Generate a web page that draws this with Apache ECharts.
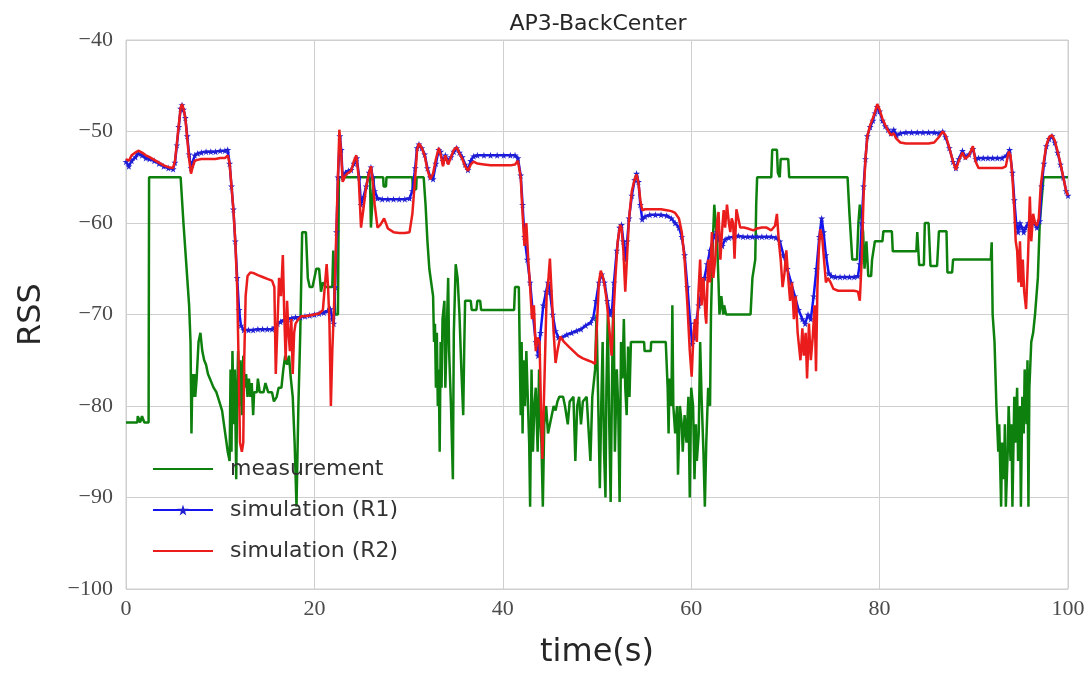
<!DOCTYPE html>
<html>
<head>
<meta charset="utf-8">
<script src="https://cdn.jsdelivr.net/npm/echarts@6/dist/echarts.min.js"></script>
<style>html,body{margin:0;padding:0;background:#fff}#c{width:1090px;height:674px}</style>
</head>
<body>
<div id="c"></div>
<script>
// ---- data (time in s, RSS in dBm) ----
const seriesNames = ["measurement", "simulation (R1)", "simulation (R2)"];
const xTicks = [0, 20, 40, 60, 80, 100];
const yTicks = [-100, -90, -80, -70, -60, -50, -40];

// measurement: [time, RSS]
const measurement = [[0,-81.8],[1.2,-81.8],[1.25,-81.1],[1.45,-81.1],[1.5,-81.8],[1.65,-81.8],[1.7,-81.1],[1.9,-81.1],[1.95,-81.8],[2.4,-81.8],[2.45,-55],[5.8,-55],[6.1,-60],[6.4,-64.5],[6.7,-69],[6.85,-73],[6.95,-83],[7.05,-76.5],[7.15,-79],[7.25,-76.5],[7.35,-79],[7.5,-77],[7.7,-73],[7.9,-72],[8.1,-74],[8.3,-75],[8.5,-75.5],[8.7,-76.5],[8.9,-77],[9.1,-77.5],[9.3,-78],[9.6,-78.5],[9.9,-79.5],[10.2,-80.5],[10.4,-82],[10.6,-83.5],[10.8,-85],[11.0,-86],[11.1,-76],[11.2,-85],[11.3,-74],[11.45,-82],[11.55,-76],[11.7,-88],[11.8,-79],[11.9,-74],[12.0,-80],[12.15,-75],[12.3,-81],[12.45,-74.5],[12.6,-78],[12.75,-76.5],[12.9,-79],[13.05,-77],[13.2,-79],[13.35,-77.5],[13.5,-81],[13.6,-78.5],[13.9,-78.5],[14.0,-77],[14.2,-78.5],[14.6,-78.5],[14.8,-77.5],[15.0,-77.5],[15.1,-78.5],[15.5,-78.5],[15.7,-79.5],[16.0,-79],[16.2,-78],[16.5,-78],[16.7,-76],[16.9,-74.5],[17.1,-75.5],[17.3,-74.5],[17.5,-77],[17.7,-79],[17.9,-84],[18.1,-91],[18.3,-80],[18.5,-72],[18.7,-61],[19.1,-61],[19.3,-66],[19.5,-67],[19.8,-67],[20.0,-66],[20.2,-65],[20.5,-65],[20.7,-67.5],[20.9,-66.5],[21.2,-67],[21.6,-67],[21.9,-67],[22.0,-63],[22.2,-70],[22.5,-70],[22.6,-55],
[25.9,-55],[26.0,-60.5],[26.2,-60.5],[26.3,-55],[27.3,-55],[27.35,-56],[27.6,-56],[27.65,-55],[30.4,-55],[30.45,-56.3],[30.8,-56.3],[30.85,-55],[31.6,-55],[31.8,-58],[32.0,-62],[32.2,-65],[32.4,-66.5],[32.6,-68],[32.7,-73],[32.8,-71],[32.9,-78],[33.0,-72],[33.1,-80],[33.2,-76],[33.3,-85],[33.4,-73],[33.5,-78],[33.6,-70.5],[33.8,-68.5],[33.9,-78],[34.1,-70],[34.2,-66],[34.3,-74],[34.5,-80],[34.7,-88],[34.8,-72],[35.0,-64.5],[35.2,-66],[35.4,-70],[35.6,-76],[35.8,-81],[35.9,-74],[36.0,-68.5],[36.6,-68.5],[36.7,-69.5],[37.2,-69.5],[37.3,-68.5],[37.6,-68.5],[37.7,-69.5],[41.2,-69.5],[41.3,-67],[41.7,-67],
[41.8,-74],[41.9,-81],[42.0,-73],[42.1,-83],[42.2,-75],[42.35,-80],[42.5,-74],[42.6,-77.5],[42.8,-84],[42.9,-91],[43.05,-76],[43.2,-85],[43.35,-80],[43.5,-78],[43.7,-85],[43.85,-76],[44.0,-82],[44.1,-84],[44.25,-91],[44.4,-82],[44.6,-80],[44.8,-83],[45.0,-83],[45.2,-81],[45.4,-80],[45.6,-80.5],[45.8,-79.5],[46.0,-79],[46.4,-79],[46.6,-80],[46.9,-82],[47.1,-79.5],[47.5,-79],[47.7,-86],[47.9,-80],[48.1,-79],[48.3,-82],[48.5,-79.5],[48.9,-79],[49.3,-86],[49.5,-79],[49.8,-76],[49.95,-70],[50.1,-78],[50.3,-89],[50.45,-80],[50.6,-73],[50.75,-85],[50.9,-90],[51.0,-78],[51.15,-70],[51.3,-82],[51.45,-90.5],[51.6,-77],[51.75,-67],[51.9,-85],[52.1,-76],[52.25,-80],[52.4,-90.5],[52.55,-73],[52.7,-77],[52.85,-70.5],[53.0,-78],[53.15,-81],[53.3,-73.5],[53.45,-79],[53.6,-73],
[55.0,-73],[55.05,-74],[55.7,-74],[55.75,-73],[57.3,-73],[57.5,-78],[57.6,-83],[57.7,-77],[57.9,-80],[58.0,-69],[58.1,-80],[58.3,-83],[58.5,-80],[58.6,-87.5],[58.8,-80],[59.0,-82],[59.1,-85],[59.3,-81],[59.5,-84],[59.7,-79],[59.85,-90],[60.0,-78],[60.2,-80],[60.35,-88],[60.5,-82],[60.6,-86],[60.8,-83],[60.95,-73],[61.1,-79],[61.3,-85],[61.45,-91],[61.6,-84],[61.8,-78],[62.0,-80],[62.1,-70],[62.3,-62],[62.45,-58],[62.65,-58],[62.75,-62],[62.9,-66.5],[63.0,-70],[63.2,-68],[63.4,-70],[63.5,-69],[63.7,-70],[66.3,-70],[66.5,-66],[66.8,-64],[66.9,-58],[67.0,-55],[68.5,-55],[68.6,-52],[69.1,-52],[69.2,-54.5],[69.4,-55],[69.5,-53],[70.3,-53],[70.4,-55],
[76.6,-55],[76.8,-59],[77.1,-64],[77.6,-64],[77.75,-60],[77.9,-58],[78.1,-58],[78.25,-61],[78.4,-65],[78.6,-62],[78.8,-65.8],[79.1,-65.8],[79.2,-64],[79.5,-62],[80.3,-62],[80.4,-60.9],[81.3,-60.9],[81.4,-63.1],[83.9,-63.1],[84.0,-61],[84.2,-64.6],[84.7,-64.6],[84.8,-60],[85.2,-60],[85.4,-64.7],[86.1,-64.7],[86.3,-60.9],[87.1,-60.9],[87.2,-65.4],[87.7,-65.4],[87.8,-64],[91.8,-64],[91.9,-62.1],
[92.0,-70],[92.2,-73],[92.4,-80],[92.6,-85],[92.7,-82],[92.9,-91],[93.0,-84],[93.2,-88],[93.3,-82],[93.4,-91],[93.6,-85],[93.7,-80],[93.9,-86],[94.0,-82],[94.1,-91],[94.3,-79],[94.4,-84],[94.6,-78],[94.7,-86],[94.9,-80],[95.0,-91],[95.15,-79],[95.3,-83],[95.4,-76],[95.6,-82],[95.7,-75],[95.8,-91],[95.9,-78],[96.1,-73],[96.3,-72],[96.5,-70],[96.8,-66],[97.0,-60],[97.4,-55],[100,-55]];

const r1Time = [0,0.3,0.6,1.0,1.3,1.7,2.1,2.5,3.0,3.5,4.0,4.5,5.0,5.2,5.4,5.6,5.8,5.95,6.1,6.3,6.5,6.7,6.9,7.1,7.3,7.6,8.0,8.5,9.0,9.5,10.0,10.5,10.8,11.0,11.2,11.4,11.6,11.8,12.0,12.2,12.5,13.0,13.5,14.0,14.5,15.0,15.5,15.8,16.1,16.4,16.8,17.2,17.6,18.0,18.5,19.0,19.5,20.0,20.5,21.0,21.4,21.7,21.9,22.05,22.2,22.35,22.5,22.7,22.85,23.0,23.3,23.6,23.9,24.2,24.5,24.75,24.95,25.2,25.5,25.8,26.0,26.2,26.4,26.7,27.2,27.8,28.4,29.0,29.6,30.1,30.4,30.7,30.9,31.1,31.4,31.7,32.0,32.3,32.6,32.9,33.2,33.4,33.65,33.9,34.2,34.5,34.8,35.1,35.4,35.7,36.0,36.3,36.6,36.9,37.3,38.0,38.7,39.4,40.1,40.8,41.3,41.6,41.9,42.1,42.3,42.6,42.9,43.2,43.5,43.75,44.0,44.3,44.6,44.8,45.0,45.3,45.6,45.9,46.3,46.8,47.3,47.8,48.3,48.8,49.3,49.6,49.9,50.2,50.5,50.8,51.1,51.4,51.6,51.8,52.1,52.4,52.6,52.8,53.0,53.2,53.4,53.7,54.0,54.2,54.4,54.6,54.8,55.1,55.6,56.2,56.8,57.4,57.9,58.3,58.7,59.0,59.3,59.6,59.9,60.1,60.3,60.5,60.8,61.1,61.4,61.7,62.0,62.4,62.7,63.0,63.3,63.6,64.0,64.5,65.0,65.5,66.0,66.5,67.0,67.5,68.0,68.5,69.0,69.4,69.8,70.2,70.6,71.0,71.4,71.8,72.1,72.4,72.7,73.0,73.3,73.6,73.85,74.05,74.3,74.6,74.9,75.3,75.8,76.3,76.8,77.3,77.7,77.9,78.1,78.3,78.5,78.7,79.0,79.3,79.5,79.75,80.0,80.3,80.6,80.9,81.2,81.5,81.8,82.2,82.8,83.4,84.0,84.6,85.2,85.8,86.3,86.7,87.0,87.4,87.8,88.1,88.4,88.8,89.1,89.5,89.9,90.2,90.5,91.0,91.5,92.0,92.5,93.0,93.5,93.8,94.1,94.3,94.5,94.7,94.9,95.1,95.3,95.5,95.8,96.1,96.4,96.7,97.0,97.2,97.45,97.7,98.0,98.3,98.6,98.9,99.2,99.5,99.8,100];
const r1RSS = [-53.3,-53.8,-53.2,-52.8,-52.4,-52.6,-52.9,-53.0,-53.2,-53.5,-53.8,-54.0,-54.1,-53.4,-51.5,-49.5,-47.5,-47.1,-47.6,-48.5,-50.5,-52.5,-54.0,-53.3,-52.6,-52.4,-52.3,-52.2,-52.2,-52.2,-52.1,-52.1,-52.0,-53.5,-56,-58.5,-62,-66,-69.5,-71.2,-71.7,-71.7,-71.7,-71.6,-71.6,-71.6,-71.6,-71.4,-71.0,-70.8,-70.6,-70.5,-70.4,-70.3,-70.3,-70.2,-70.1,-70.0,-69.9,-69.8,-69.6,-69.4,-70.5,-71,-67,-61,-55,-50.5,-52,-55,-54.5,-54.3,-54.2,-53.5,-52.9,-55,-58,-57.2,-56,-54.5,-53.9,-55,-56.5,-57.3,-57.4,-57.4,-57.4,-57.4,-57.4,-57.3,-56.5,-54,-51.8,-51.4,-51.8,-52.5,-54,-55,-55.2,-53.5,-52,-52.2,-53.2,-52.6,-53.2,-52.8,-52.2,-51.8,-52.3,-52.8,-53.6,-54.2,-53.2,-52.7,-52.6,-52.6,-52.6,-52.6,-52.6,-52.6,-52.6,-52.9,-54.8,-58,-61.5,-64,-66.5,-70,-73,-74.5,-72,-69,-67.5,-66.5,-67.5,-70,-71.8,-72.5,-72.5,-72.2,-72,-71.8,-71.6,-71.2,-70.9,-70.4,-68.5,-66.5,-65.6,-66.5,-68.5,-70,-69.5,-66.5,-63,-60.5,-60.2,-62,-64,-62,-59.5,-57,-55.3,-54.6,-55.5,-58,-59.6,-59.3,-59.1,-59.1,-59.1,-59.2,-59.5,-60,-60.5,-61.5,-63.5,-67,-71,-73.2,-72.5,-71,-69,-67.5,-66,-64.5,-63,-61.5,-61,-61.8,-62.5,-61.8,-61.6,-61.5,-61.4,-61.5,-61.5,-61.5,-61.5,-61.5,-61.5,-61.5,-61.6,-62,-63.5,-65,-66.5,-68,-69.5,-70.5,-71,-70,-70.5,-68,-65,-61.5,-59.5,-61,-63.5,-65.5,-65.8,-65.9,-65.9,-65.9,-65.9,-65.9,-65.8,-64.5,-60,-56,-53,-50.5,-49.5,-48.8,-48,-47.3,-47.8,-48.8,-49.4,-49.8,-50.2,-49.8,-50.4,-50.2,-50.1,-50.1,-50.1,-50.1,-50.1,-50.1,-50.2,-50.0,-50.6,-51.8,-53.3,-54,-53,-52.1,-52.8,-52.5,-51.9,-53,-52.9,-52.9,-52.9,-52.9,-52.9,-52.9,-52.6,-52,-54.5,-57.5,-60,-61,-60,-60.5,-61,-60.5,-60,-59.5,-60,-60.5,-59.8,-56,-53.5,-51.6,-50.8,-50.5,-51.2,-52.3,-53.6,-55,-56.5,-57];

const r2Time = [0,0.3,0.6,1.0,1.3,1.7,2.1,2.5,3.0,3.5,4.0,4.5,5.0,5.2,5.4,5.6,5.8,5.95,6.1,6.3,6.5,6.7,6.9,7.1,7.3,7.6,8.0,8.5,9.0,9.5,10.0,10.5,10.8,11.0,11.2,11.4,11.6,11.8,11.95,12.1,12.3,12.45,12.55,12.7,12.9,13.2,13.6,14.0,14.5,15.0,15.5,15.75,15.9,16.05,16.25,16.45,16.65,16.8,16.95,17.1,17.25,17.4,17.55,17.7,17.85,18.0,18.3,18.6,19.0,19.5,20.0,20.5,20.9,21.1,21.3,21.45,21.6,21.75,21.9,22.05,22.2,22.35,22.5,22.65,22.85,23.0,23.3,23.6,23.9,24.2,24.45,24.7,24.95,25.2,25.5,25.8,26.0,26.2,26.4,26.7,27.0,27.4,27.8,28.4,29.0,29.6,30.1,30.4,30.7,30.9,31.1,31.4,31.7,32.0,32.3,32.6,32.9,33.2,33.4,33.65,33.9,34.2,34.5,34.8,35.1,35.4,35.7,36.0,36.3,36.6,36.9,37.3,38.0,38.7,39.4,40.1,40.8,41.3,41.6,41.9,42.1,42.3,42.5,42.7,42.9,43.1,43.3,43.5,43.7,43.9,44.05,44.2,44.35,44.5,44.65,44.85,45.0,45.2,45.4,45.6,45.8,46.1,46.5,47.0,47.5,48.0,48.5,49.0,49.5,49.8,50.0,50.2,50.4,50.7,51.0,51.3,51.55,51.75,51.95,52.2,52.45,52.6,52.8,53.0,53.2,53.4,53.7,54.0,54.2,54.4,54.6,54.8,55.1,55.6,56.2,56.8,57.4,57.9,58.3,58.7,59.0,59.3,59.6,59.85,60.05,60.25,60.4,60.6,60.75,60.95,61.1,61.3,61.5,61.6,61.8,62.0,62.2,62.35,62.55,62.75,62.9,63.1,63.3,63.45,63.6,63.8,64.0,64.15,64.3,64.45,64.6,64.8,65.0,65.2,65.6,66.0,66.6,67.0,67.5,68.0,68.5,68.9,69.1,69.3,69.5,69.7,69.9,70.1,70.3,70.5,70.7,70.9,71.1,71.3,71.6,71.8,71.95,72.15,72.3,72.5,72.7,72.9,73.1,73.25,73.4,73.55,73.7,73.9,74.1,74.3,74.5,74.8,75.1,75.6,76.2,76.8,77.3,77.7,77.9,78.1,78.3,78.5,78.7,79.0,79.3,79.5,79.75,80.0,80.3,80.6,80.9,81.2,81.5,81.8,82.2,82.8,83.4,84.0,84.6,85.2,85.8,86.3,86.7,87.0,87.4,87.8,88.1,88.4,88.8,89.1,89.5,89.9,90.2,90.5,91.0,91.5,92.0,92.5,93.0,93.4,93.7,93.9,94.1,94.3,94.45,94.6,94.75,94.9,95.05,95.2,95.35,95.55,95.75,95.95,96.1,96.3,96.5,96.7,96.9,97.1,97.4,97.7,98.0,98.3,98.6,98.9,99.2,99.5,99.8,100];
const r2RSS = [-53.0,-53.2,-52.6,-52.3,-52.1,-52.3,-52.6,-52.8,-53.1,-53.4,-53.7,-53.9,-54.0,-53.2,-51.3,-49.3,-47.4,-47.0,-47.5,-48.5,-50.8,-53,-54.6,-53.8,-53.2,-53.1,-53.0,-53.0,-53.0,-53.0,-52.9,-52.9,-52.6,-53.5,-56,-58.5,-62,-67,-75,-84,-85,-84,-75,-68,-65.8,-65.4,-65.5,-65.7,-65.9,-66.1,-66.3,-67,-76.5,-72,-66,-68,-63.5,-70,-75,-68.5,-72,-74,-70.5,-76.5,-72,-71,-70.5,-70.2,-70.2,-70.1,-70.0,-69.9,-69.5,-67,-64.5,-67,-71,-80,-74,-70,-66,-60,-55,-49.8,-52.5,-55.5,-54.8,-54.5,-54.3,-53.2,-52.6,-55,-60.5,-58.5,-56,-54.5,-53.8,-55.5,-58,-60.5,-60.2,-59.5,-60.6,-61,-61.1,-61.1,-61,-59,-55,-52,-51.3,-51.8,-52.6,-54.2,-55.2,-54.6,-53,-51.8,-52.5,-53.8,-52.6,-53.6,-52.8,-52.0,-51.7,-52.4,-53,-53.8,-54.3,-53.6,-53.3,-53.5,-53.6,-53.7,-53.7,-53.7,-53.7,-53.6,-53.2,-55,-59,-62.5,-60,-64,-67,-70.5,-69,-74,-72.5,-73,-80,-85.8,-80,-74,-68,-66,-63.9,-68,-72,-75.3,-74,-72.4,-73,-73.5,-74,-74.5,-74.8,-75,-75.2,-75.4,-71,-66.5,-65.2,-66.2,-68.2,-71.5,-74.5,-70,-66,-62,-60.2,-60.5,-63,-67.5,-63.5,-59.5,-56.5,-55.2,-54.7,-55.6,-57.5,-58.6,-58.5,-58.5,-58.5,-58.5,-58.6,-58.7,-58.9,-59.5,-61,-64,-69,-74,-76.8,-72,-70.5,-73,-68,-64,-69,-66,-70,-71,-64,-66.5,-61,-66,-64,-60,-58.8,-64,-60.5,-58.6,-60.5,-58,-60,-61,-59.5,-60,-63.9,-58.5,-59.5,-60.5,-60.5,-60.6,-60.8,-60.6,-60.5,-60.5,-60.8,-60.3,-59,-62,-64,-67,-65.5,-63,-66,-68.5,-66.5,-70.5,-68,-72,-75,-71.5,-74.5,-72,-77,-71,-75,-72.5,-69,-76.2,-67,-63,-60.7,-61.5,-64,-66.5,-66,-66.5,-67.2,-67.4,-67.4,-67.4,-67.4,-67.5,-68.5,-64,-57,-53,-50.5,-49.3,-48.5,-47.9,-47.0,-47.6,-48.6,-49.3,-49.9,-50.4,-50.2,-50.8,-51.2,-51.3,-51.3,-51.3,-51.3,-51.3,-51.2,-50.6,-50.0,-50.4,-51.8,-53.3,-54.2,-53.2,-52.3,-53,-52.6,-51.6,-53.3,-54.0,-54.0,-54.0,-54.0,-54.0,-54.0,-53.8,-52.2,-52.6,-55,-58.5,-62,-63,-66.5,-62,-67,-64,-67.5,-69.4,-64,-57.1,-62,-59,-60,-60.3,-59.5,-56,-53.5,-51.5,-50.6,-50.4,-51,-52.2,-53.5,-55,-56.5,-57];

const zip = (xs, ys) => xs.map((x, i) => [x, ys[i]]);
const minus = v => String(v).replace('-', '\u2212');
const star = 'path://M50,0L61,35L98,35L68,57L79,91L50,70L21,91L32,57L2,35L39,35Z';

const chart = echarts.init(document.getElementById('c'), null, {renderer: 'canvas'});
chart.setOption({
  animation: false,
  backgroundColor: '#ffffff',
  title: {
    text: 'AP3-BackCenter', left: 593, top: 8, textAlign: 'center',
    textStyle: {fontFamily: 'DejaVu Sans', fontSize: 22, fontWeight: 'normal', color: '#262626'}
  },
  grid: {left: 126, right: 22, top: 40, bottom: 83, show: true, borderColor: '#cfcfcf', borderWidth: 1},
  legend: {
    orient: 'vertical', left: 147, top: 453, itemWidth: 60, itemHeight: 14, itemGap: 19,
    data: [
      {name: seriesNames[0], itemStyle: {opacity: 0}},
      {name: seriesNames[1]},
      {name: seriesNames[2], itemStyle: {opacity: 0}}
    ],
    textStyle: {fontFamily: 'DejaVu Sans', fontSize: 22, color: '#333', padding: [0, 0, 0, 12]}
  },
  xAxis: {
    type: 'value', min: xTicks[0], max: xTicks[xTicks.length - 1], interval: 20,
    name: 'time(s)', nameLocation: 'middle', nameGap: 48,
    nameTextStyle: {fontFamily: 'DejaVu Sans', fontSize: 32, color: '#262626'},
    axisLine: {show: false}, axisTick: {show: false},
    splitLine: {show: true, lineStyle: {color: '#cfcfcf', width: 1}},
    axisLabel: {fontFamily: 'Liberation Serif', fontSize: 22, color: '#4a4a4a', margin: 9}
  },
  yAxis: {
    type: 'value', min: yTicks[0], max: yTicks[yTicks.length - 1], interval: 10,
    name: 'RSS', nameLocation: 'middle', nameGap: 78,
    nameTextStyle: {fontFamily: 'DejaVu Sans', fontSize: 32, color: '#262626'},
    axisLine: {show: false}, axisTick: {show: false},
    splitLine: {show: true, lineStyle: {color: '#cfcfcf', width: 1}},
    axisLabel: {fontFamily: 'Liberation Serif', fontSize: 22, color: '#4a4a4a', margin: 13, formatter: minus}
  },
  series: [
    {name: seriesNames[0], type: 'line', data: measurement, symbol: 'none', z: 2,
     lineStyle: {color: '#0d800d', width: 2.5}, itemStyle: {color: '#0d800d'}},
    {name: seriesNames[1], type: 'line', data: zip(r1Time, r1RSS), symbol: star, symbolSize: 7, showSymbol: true, z: 3,
     lineStyle: {color: '#1414f0', width: 2.5}, itemStyle: {color: '#2020d0', borderWidth: 0}},
    {name: seriesNames[2], type: 'line', data: zip(r2Time, r2RSS), symbol: 'none', z: 4,
     lineStyle: {color: '#ea1c1c', width: 2.5}, itemStyle: {color: '#ea1c1c'}}
  ]
});
</script>
</body>
</html>
